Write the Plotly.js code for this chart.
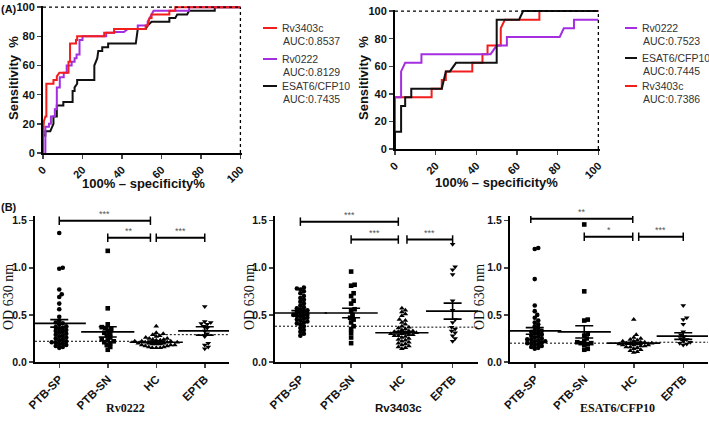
<!DOCTYPE html>
<html>
<head>
<meta charset="utf-8">
<script src="https://cdn.plot.ly/plotly-3.0.1.min.js"></script>
<style>
  html, body { margin: 0; padding: 0; background: #ffffff; }
  #chart { width: 709px; height: 422px; }
</style>
</head>
<body>
<div id="chart"></div>
<script>
// ---- (A) ROC curves, left panel ----
const rocL_Rv3403c_x = [0,0,0.5,1.2,1.7,1.7,5.3,5.3,7,7,8.3,12.9,12.9,13.7,13.7,16.7,16.7,17.3,17.3,31,31,36,36,52,52,53,54,55,55,64,64,67,67,100];
const rocL_Rv3403c_y = [0,15,22,25,25,47.5,47.5,50,50,52.5,55,55,62.5,62.5,75,75,77.5,77.5,80,80,82.5,82.5,85,85,87.5,87.5,92.5,92.5,95,95,97.5,97.5,100,100];
const rocL_Rv0222_x = [1.2,1.2,3,3,4,4,6,6,7,7,8.5,8.5,10.5,10.5,12,12,14.5,14.5,16,16,17,17,18.5,18.5,20,20,32,32,36,36,41,43,48,48,53,53,55,56,74,74,100];
const rocL_Rv0222_y = [0,18,18,20,20,25,25,30,30,45,45,52,52,55,55,60,60,62.5,62.5,65,65,67.5,67.5,77.5,77.5,80,80,82.5,82.5,83,83,85,85,87.5,87.5,90,95,97.5,97.5,100,100];
const rocL_Esat_x = [0,0,1.2,1.2,3.7,5.3,5.3,7,7,10.3,10.3,15,15,16,16,17.3,17.3,26,26,27.5,28,30,30,33,33,47,48,52,53,55,64,64,67,68,73,74,87,87,100];
const rocL_Esat_y = [0,12,12,15,15,20,25,25,32.5,32.5,35,35,42.5,42.5,45,47.5,50,50,60,65,70,70,72.5,72.5,75,75,85,85,87.5,90,90,92.5,92.5,95,95,97.5,97.5,100,100];

// ---- (A) ROC curves, right panel ----
const rocR_Rv3403c_x = [0,0,18,18,23,23,25,25,38,38,43,43,45.5,45.5,52,52,54,71,71,100];
const rocR_Rv3403c_y = [0,37.5,37.5,43.75,43.75,50,50,56.25,56.25,62.5,62.5,68.75,68.75,75,75,87.5,93.75,93.75,100,100];
const rocR_Esat_x = [0,0,3,3,5,5,8,8,23,25,27,30,50,50,61,63,100];
const rocR_Esat_y = [0,12.5,12.5,31.25,31.25,37.5,37.5,43.75,43.75,56.25,56.25,62.5,62.5,93.75,93.75,100,100];
const rocR_Rv0222_x = [0,0,3,3,5,13,13,47,50,55,55,81,83,88,88,100];
const rocR_Rv0222_y = [0,37.5,37.5,56.25,62.5,62.5,68.75,68.75,75,75,81.25,81.25,87.5,87.5,93.75,93.75];

const rocLeftNames = ["Rv3403c", "Rv0222", "ESAT6/CFP10"];
const rocLeftAuc = ["0.8537", "0.8129", "0.7435"];
const rocRightNames = ["Rv0222", "ESAT6/CFP10", "Rv3403c"];
const rocRightAuc = ["0.7523", "0.7445", "0.7386"];

// ---- (B) OD 630 nm scatter ----
const groups = ["PTB-SP", "PTB-SN", "HC", "EPTB"];

const rv0222_SP = [1.37,1.0,0.99,0.77,0.72,0.69,0.62,0.56,0.48,0.44,0.42,0.41,0.40,0.38,0.37,0.36,0.35,0.34,0.33,0.32,0.31,0.30,0.29,0.28,0.27,0.26,0.25,0.24,0.23,0.22,0.21,0.21,0.20,0.19,0.18,0.17,0.16,0.15];
const rv0222_SN = [1.18,0.57,0.40,0.37,0.36,0.35,0.33,0.31,0.30,0.28,0.26,0.24,0.23,0.22,0.21,0.20,0.18,0.16,0.13];
const rv0222_HC = [0.38,0.31,0.30,0.29,0.28,0.27,0.26,0.25,0.25,0.24,0.24,0.23,0.23,0.22,0.22,0.22,0.21,0.21,0.21,0.20,0.20,0.20,0.19,0.19,0.19,0.18,0.18,0.18,0.17,0.17,0.16,0.16,0.15,0.15,0.15];
const rv0222_EPTB = [0.59,0.43,0.42,0.41,0.40,0.38,0.36,0.33,0.30,0.27,0.20,0.18,0.16,0.14];
const rv0222_mean = [0.41, 0.32, 0.21, 0.33];
const rv0222_sem = [0.04, 0.055, 0.012, 0.045];
const rv0222_cutoff = [0.22, 0.29];

const rv3403c_SP = [0.79,0.78,0.77,0.75,0.73,0.70,0.68,0.66,0.64,0.62,0.60,0.58,0.57,0.56,0.55,0.54,0.53,0.52,0.51,0.50,0.50,0.49,0.48,0.47,0.46,0.45,0.44,0.43,0.42,0.41,0.40,0.38,0.36,0.34,0.32,0.30,0.28];
const rv3403c_SN = [0.96,0.82,0.81,0.73,0.70,0.65,0.62,0.56,0.54,0.50,0.47,0.45,0.42,0.38,0.35,0.31,0.26,0.20];
const rv3403c_HC = [0.57,0.55,0.53,0.51,0.49,0.45,0.44,0.42,0.40,0.38,0.37,0.36,0.35,0.34,0.33,0.33,0.32,0.32,0.31,0.31,0.30,0.30,0.29,0.29,0.28,0.28,0.27,0.26,0.25,0.24,0.23,0.22,0.21,0.20,0.19,0.18,0.17,0.16,0.15,0.14];
const rv3403c_EPTB = [1.25,1.01,0.98,0.93,0.65,0.55,0.45,0.42,0.37,0.35,0.33,0.31,0.28,0.25,0.22];
const rv3403c_mean = [0.52, 0.52, 0.31, 0.54];
const rv3403c_sem = [0.025, 0.05, 0.012, 0.085];
const rv3403c_cutoff = [0.38, 0.37];

const esat_SP = [1.21,1.20,0.88,0.60,0.54,0.50,0.47,0.44,0.42,0.40,0.38,0.36,0.34,0.33,0.32,0.31,0.30,0.29,0.28,0.27,0.26,0.25,0.24,0.24,0.23,0.22,0.22,0.21,0.20,0.20,0.19,0.18,0.17,0.16,0.15,0.14];
const esat_SN = [1.46,0.75,0.45,0.44,0.30,0.28,0.25,0.22,0.21,0.20,0.20,0.19,0.18,0.14,0.13];
const esat_HC = [0.45,0.29,0.26,0.25,0.24,0.23,0.22,0.22,0.21,0.21,0.20,0.20,0.20,0.19,0.19,0.18,0.18,0.18,0.17,0.17,0.16,0.16,0.15,0.14,0.13,0.12,0.11,0.10];
const esat_EPTB = [0.60,0.47,0.45,0.40,0.32,0.29,0.27,0.25,0.24,0.22,0.21,0.20,0.19,0.18];
const esat_mean = [0.33, 0.32, 0.20, 0.275];
const esat_sem = [0.035, 0.065, 0.01, 0.035];
const esat_cutoff = [0.20, 0.21];

// significance brackets: [from, to, level, label]
const rv0222_brackets = [[0, 1.88, 1.5, "***"], [1, 1.88, 1.32, "**"], [2, 3, 1.32, "***"]];
const rv3403c_brackets = [[0, 1.93, 1.49, "***"], [1, 1.93, 1.3, "***"], [2.1, 3, 1.3, "***"]];
const esat_brackets = [[-0.08, 1.98, 1.52, "**"], [1, 1.98, 1.33, "*"], [2.1, 3, 1.33, "***"]];

const W = 709, H = 422;
const px = (v) => v / W;
const py = (v) => 1 - v / H;

const sans = "Liberation Sans, Arial, sans-serif";
const serif = "Liberation Serif, Times New Roman, serif";
const RED = "#f21d1d";
const PURPLE = "#a42ee0";
const BLACK = "#111111";

const colorOf = { "Rv3403c": RED, "Rv0222": PURPLE, "ESAT6/CFP10": BLACK };

function rocTrace(x, y, color, xa, ya) {
  return {
    type: "scatter", mode: "lines", x: x, y: y, xaxis: xa, yaxis: ya,
    line: { color: color, width: 2 }, showlegend: false, hoverinfo: "skip"
  };
}

// simple deterministic beeswarm: returns x offsets in data units
function swarm(values, xScale, yScale, diam) {
  const order = values.map((v, i) => i).sort((a, b) => values[a] - values[b]);
  const placed = [];
  const offs = new Array(values.length).fill(0);
  for (const i of order) {
    const yp = values[i] * yScale;
    let best = 0;
    for (let k = 0; k < 400; k++) {
      const cand = (k % 2 === 1 ? 1 : -1) * Math.ceil(k / 2) * 0.5;
      if (placed.every((p) => Math.hypot(p.x - cand, p.y - yp) >= diam)) {
        best = cand;
        break;
      }
    }
    placed.push({ x: best, y: yp });
    offs[i] = best / xScale;
  }
  return offs;
}

const traces = [
  rocTrace(rocL_Esat_x, rocL_Esat_y, BLACK, "x", "y"),
  rocTrace(rocL_Rv0222_x, rocL_Rv0222_y, PURPLE, "x", "y"),
  rocTrace(rocL_Rv3403c_x, rocL_Rv3403c_y, RED, "x", "y"),
  rocTrace(rocR_Rv3403c_x, rocR_Rv3403c_y, RED, "x2", "y2"),
  rocTrace(rocR_Rv0222_x, rocR_Rv0222_y, PURPLE, "x2", "y2"),
  rocTrace(rocR_Esat_x, rocR_Esat_y, BLACK, "x2", "y2")
];

const shapes = [];
const annotations = [];

function label(x, y, text, font, extra) {
  annotations.push(Object.assign({
    xref: "paper", yref: "paper", x: px(x), y: py(y), xanchor: "center", yanchor: "middle",
    text: text, showarrow: false, font: font
  }, extra || {}));
}

// dashed top / right frame for ROC panels
[["x", "y"], ["x2", "y2"]].forEach(([xa, ya]) => {
  shapes.push({ type: "line", xref: xa, yref: ya, x0: 0, x1: 100, y0: 100, y1: 100, line: { color: "#000", width: 1.3, dash: "3px,3px" } });
  shapes.push({ type: "line", xref: xa, yref: ya, x0: 100, x1: 100, y0: 0, y1: 100, line: { color: "#000", width: 1.3, dash: "3px,3px" } });
});

// custom ROC legends
function addLegend(names, aucs, lineX0, lineX1, rowsY) {
  const f = { family: sans, size: 10.5, color: "#333" };
  names.forEach((name, i) => {
    const yTop = rowsY[i];
    shapes.push({
      type: "line", xref: "paper", yref: "paper",
      x0: px(lineX0), x1: px(lineX1), y0: py(yTop), y1: py(yTop),
      line: { color: colorOf[name], width: 2 }
    });
    label(lineX1 + 3, yTop, name, f, { xanchor: "left" });
    label(lineX1 + 4, yTop + 13, "AUC:" + aucs[i], f, { xanchor: "left" });
  });
}
addLegend(rocLeftNames, rocLeftAuc, 263, 277, [28, 59, 86]);
addLegend(rocRightNames, rocRightAuc, 625, 637, [28, 58, 86]);

// (B) panels
const panels = [
  { title: "Rv0222", titleFont: { family: serif, size: 12, weight: "bold", color: "#111" }, data: [rv0222_SP, rv0222_SN, rv0222_HC, rv0222_EPTB], mean: rv0222_mean, sem: rv0222_sem, cutoff: rv0222_cutoff, brackets: rv0222_brackets, dom: [35, 229], yTitleX: 8, xTitleX: 125 },
  { title: "Rv3403c", titleFont: { family: sans, size: 11.5, weight: "bold", color: "#111" }, data: [rv3403c_SP, rv3403c_SN, rv3403c_HC, rv3403c_EPTB], mean: rv3403c_mean, sem: rv3403c_sem, cutoff: rv3403c_cutoff, brackets: rv3403c_brackets, dom: [275, 478], yTitleX: 249, xTitleX: 398 },
  { title: "ESAT6/CFP10", titleFont: { family: serif, size: 12, weight: "bold", color: "#111" }, data: [esat_SP, esat_SN, esat_HC, esat_EPTB], mean: esat_mean, sem: esat_sem, cutoff: esat_cutoff, brackets: esat_brackets, dom: [510, 708], yTitleX: 479, xTitleX: 617 }
];
const symbols = ["circle", "square", "triangle-up", "triangle-down"];
const yRangeB = [0, 1.55];
const yDomB = [362, 216];
const yScaleB = (yDomB[0] - yDomB[1]) / (yRangeB[1] - yRangeB[0]);

const layout = {
  width: W, height: H,
  margin: { l: 0, r: 0, t: 0, b: 0 },
  paper_bgcolor: "#ffffff", plot_bgcolor: "#ffffff",
  font: { family: sans, size: 11, color: "#111" },
  showlegend: false
};

const rocTitleFont = { family: sans, size: 13, weight: "bold", color: "#111" };

function rocAxes(xDom, yDom, xa, ya) {
  layout["xaxis" + xa] = {
    domain: [px(xDom[0]), px(xDom[1])], anchor: "y" + ya, range: [0, 100.8],
    tickvals: [0, 20, 40, 60, 80, 100], tickangle: -45,
    showline: true, linewidth: 2, linecolor: "#000", ticks: "outside", ticklen: 4, tickwidth: 1.5,
    showgrid: false, zeroline: false,
    tickfont: { family: sans, size: 11, weight: "bold", color: "#111" }
  };
  layout["yaxis" + ya] = {
    domain: [py(yDom[0]), py(yDom[1])], anchor: "x" + xa, range: [0, 100.8],
    tickvals: [0, 20, 40, 60, 80, 100],
    showline: true, linewidth: 2, linecolor: "#000", ticks: "outside", ticklen: 4, tickwidth: 1.5,
    showgrid: false, zeroline: false,
    tickfont: { family: sans, size: 11, weight: "bold", color: "#111" }
  };
}
rocAxes([43, 242], [153, 6], "", "");
rocAxes([395, 600], [149, 10], "2", "2");

label(13, 78, "Sensitivity  %", rocTitleFont, { textangle: -90 });
label(143, 183, "100% \u2013 specificity%", rocTitleFont);
label(363, 78, "Sensitivity  %", rocTitleFont, { textangle: -90 });
label(496, 182, "100% \u2013 specificity%", rocTitleFont);

panels.forEach((p, k) => {
  const n = k + 3;
  const xa = "x" + n, ya = "y" + n;
  const xScale = (p.dom[1] - p.dom[0]) / 4;

  p.data.forEach((vals, g) => {
    const offs = swarm(vals, xScale, yScaleB, 3.6);
    traces.push({
      type: "scatter", mode: "markers", xaxis: xa, yaxis: ya,
      x: vals.map((v, i) => g + offs[i]), y: vals,
      marker: { symbol: symbols[g], size: g >= 2 ? 5 : 4.6, color: "#000" },
      showlegend: false, hoverinfo: "y"
    });
  });

  traces.push({
    type: "scatter", mode: "markers", xaxis: xa, yaxis: ya,
    x: [0, 1, 2, 3], y: p.mean,
    marker: { symbol: "line-ew", size: 38, color: "#000", line: { color: "#000", width: 1.6 } },
    error_y: { type: "data", array: p.sem, visible: true, width: 9, thickness: 1.6, color: "#000" },
    showlegend: false, hoverinfo: "skip"
  });

  shapes.push({ type: "line", xref: xa, yref: ya, x0: -0.5, x1: 1.95, y0: p.cutoff[0], y1: p.cutoff[0], line: { color: "#000", width: 1, dash: "2px,2px" } });
  shapes.push({ type: "line", xref: xa, yref: ya, x0: 1.95, x1: 3.5, y0: p.cutoff[1], y1: p.cutoff[1], line: { color: "#000", width: 1, dash: "2px,2px" } });

  p.brackets.forEach(([a, b, lev, lab]) => {
    shapes.push({ type: "line", xref: xa, yref: ya, x0: a, x1: b, y0: lev, y1: lev, line: { color: "#000", width: 2 } });
    shapes.push({ type: "line", xref: xa, yref: ya, x0: a, x1: a, y0: lev - 0.045, y1: lev + 0.045, line: { color: "#000", width: 1.5 } });
    shapes.push({ type: "line", xref: xa, yref: ya, x0: b, x1: b, y0: lev - 0.045, y1: lev + 0.045, line: { color: "#000", width: 1.5 } });
    annotations.push({
      xref: xa, yref: ya, x: (a + b) / 2, y: lev, yshift: 7, showarrow: false,
      text: lab, font: { family: sans, size: 9, color: "#555" }
    });
  });

  layout["xaxis" + n] = {
    domain: [px(p.dom[0]), px(p.dom[1])], anchor: ya, range: [-0.5, 3.5],
    tickvals: [0, 1, 2, 3], ticktext: groups, tickangle: -45,
    showline: true, linewidth: 2, linecolor: "#000", ticks: "outside", ticklen: 4, tickwidth: 1.5,
    showgrid: false, zeroline: false,
    tickfont: { family: sans, size: 11.5, weight: "bold", color: "#111" }
  };
  layout["yaxis" + n] = {
    domain: [py(yDomB[0]), py(yDomB[1])], anchor: xa, range: yRangeB,
    tickvals: [0, 0.5, 1, 1.5], ticktext: ["0.0", "0.5", "1.0", "1.5"],
    showline: true, linewidth: 2, linecolor: "#000", ticks: "outside", ticklen: 4, tickwidth: 1.5,
    showgrid: false, zeroline: false,
    tickfont: { family: sans, size: 10.5, weight: "bold", color: "#111" }
  };

  label(p.yTitleX, 297, "OD 630 nm", { family: serif, size: 14, color: "#111" }, { textangle: -90 });
  label(p.xTitleX, 408, p.title, p.titleFont);
});

label(0, 9, "(A)", { family: sans, size: 11, weight: "bold", color: "#111" }, { xanchor: "left", borderpad: 0 });
label(0, 207, "(B)", { family: sans, size: 11, weight: "bold", color: "#111" }, { xanchor: "left", borderpad: 0 });

layout.shapes = shapes;
layout.annotations = annotations;

Plotly.newPlot("chart", traces, layout, { displayModeBar: false, staticPlot: true });
</script>
</body>
</html>
